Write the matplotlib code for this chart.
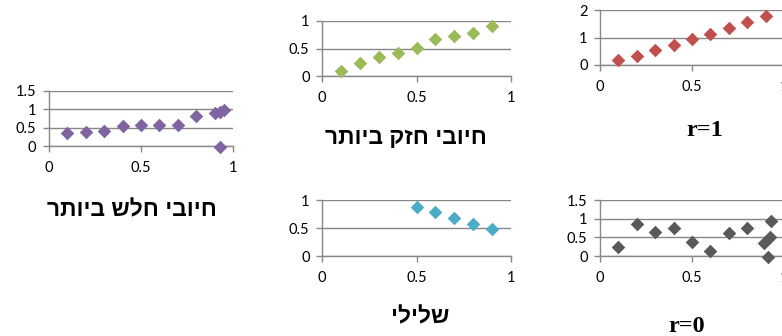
import matplotlib.pyplot as plt
import numpy as np

W, H = 782, 336

# data
weak_x = [0.1, 0.2, 0.3, 0.4, 0.5, 0.6, 0.7, 0.8, 0.9, 0.93, 0.95, 0.93]
weak_y = [0.35, 0.38, 0.42, 0.55, 0.58, 0.58, 0.58, 0.82, 0.9, 0.93, 0.98, -0.03]

strong_x = [0.1, 0.2, 0.3, 0.4, 0.5, 0.6, 0.7, 0.8, 0.9]
strong_y = [0.09, 0.24, 0.34, 0.41, 0.51, 0.67, 0.72, 0.79, 0.91]

r1_x = [0.1, 0.2, 0.3, 0.4, 0.5, 0.6, 0.7, 0.8, 0.9]
r1_y = [0.17, 0.34, 0.55, 0.73, 0.94, 1.12, 1.34, 1.55, 1.78]

neg_x = [0.5, 0.6, 0.7, 0.8, 0.9]
neg_y = [0.87, 0.78, 0.67, 0.57, 0.48]

r0_x = [0.1, 0.2, 0.3, 0.4, 0.5, 0.6, 0.7, 0.8, 0.89, 0.925, 0.93, 0.915]
r0_y = [0.25, 0.85, 0.63, 0.74, 0.37, 0.13, 0.61, 0.76, 0.35, 0.51, 0.95, -0.03]

titles = ['חיובי חלש ביותר', 'חיובי חזק ביותר', 'r=1', 'שלילי', 'r=0']

grid_c = '#878787'

fig = plt.figure(figsize=(W / 100, H / 100), dpi=100)


def panel(x0, x1, y0, y1, xs, ys, color, ymax, ystep):
    # pixel box -> figure fraction
    ax = fig.add_axes([x0 / W, 1 - y1 / H, (x1 - x0) / W, (y1 - y0) / H])
    ax.scatter(xs, ys, marker='D', s=48, color=color, linewidths=0, zorder=3, clip_on=False)
    ax.set_xlim(0, 1)
    ax.set_ylim(0, ymax)
    ax.set_xticks([0, 0.5, 1])
    ax.set_xticklabels(['0', '0.5', '1'])
    yt = np.arange(0, ymax + 1e-9, ystep)
    ax.set_yticks(yt)
    ax.set_yticklabels(['%g' % v for v in yt])
    ax.grid(axis='y', color=grid_c, linewidth=1)
    for s in ['top', 'right']:
        ax.spines[s].set_visible(False)
    for s in ['left', 'bottom']:
        ax.spines[s].set_color(grid_c)
        ax.spines[s].set_linewidth(1)
    ax.tick_params(color=grid_c, length=4, width=1, labelsize=10.5, labelcolor='black')
    ax.tick_params(axis='y', pad=5)
    ax.tick_params(axis='x', pad=7)
    for lab in ax.get_xticklabels() + ax.get_yticklabels():
        lab.set_family('Lato')
    return ax


panel(49, 233, 91, 146, weak_x, weak_y, '#8064A2', 1.5, 0.5)
panel(322, 511, 21, 76, strong_x, strong_y, '#9BBB59', 1, 0.5)
panel(600, 784, 10, 65, r1_x, r1_y, '#C0504D', 2, 1)
panel(322, 511, 200, 256, neg_x, neg_y, '#4BACC6', 1, 0.5)
panel(600, 784, 200, 256, r0_x, r0_y, '#595959', 1.5, 0.5)

heb = ['Liberation Sans', 'DejaVu Sans']
title_pos = [(132, 210), (406, 138), (705, 130), (420, 317), (687, 327)]
for t, (px, py) in zip(titles, title_pos):
    if t.startswith('r'):
        fig.text(px / W, 1 - py / H, t, ha='center', va='center', fontsize=17.5,
                 fontweight='bold', family='Liberation Serif')
    else:
        # matplotlib has no bidi, so draw the Hebrew in visual order
        fig.text(px / W, 1 - py / H, t[::-1], ha='center', va='center', fontsize=16.5,
                 fontweight='bold', family=heb)

fig.savefig('out.png', dpi=100)
